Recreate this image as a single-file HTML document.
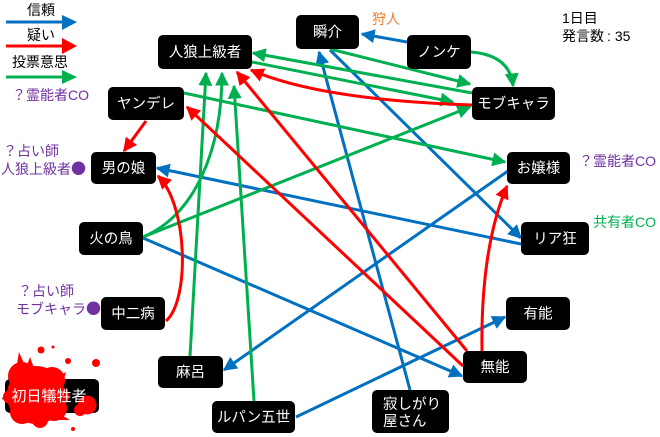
<!DOCTYPE html>
<html><head><meta charset="utf-8">
<style>
html,body{margin:0;padding:0;background:#fff;}
svg{display:block;}
text{font-family:"Liberation Sans","Noto Sans CJK JP",sans-serif;}
</style></head>
<body>
<svg width="660" height="437" viewBox="0 0 660 437" xmlns="http://www.w3.org/2000/svg">
<defs>
<marker id="ab" viewBox="0 0 10 10" refX="9" refY="5" markerWidth="14" markerHeight="14" markerUnits="userSpaceOnUse" orient="auto"><path d="M0,0 L10,5 L0,10 z" fill="#0070C0"/></marker>
<marker id="ar" viewBox="0 0 10 10" refX="9" refY="5" markerWidth="14" markerHeight="14" markerUnits="userSpaceOnUse" orient="auto"><path d="M0,0 L10,5 L0,10 z" fill="#FF0000"/></marker>
<marker id="ag" viewBox="0 0 10 10" refX="9" refY="5" markerWidth="14" markerHeight="14" markerUnits="userSpaceOnUse" orient="auto"><path d="M0,0 L10,5 L0,10 z" fill="#00B050"/></marker>
</defs>

<!-- legend -->
<text x="27" y="15" font-size="14" fill="#000">信頼</text>
<line x1="6" y1="22" x2="64" y2="22" stroke="#0070C0" stroke-width="3"/>
<polygon points="62,15 77,22 62,30" fill="#0070C0"/>
<text x="27" y="40" font-size="14" fill="#000">疑い</text>
<line x1="6" y1="46" x2="64" y2="46" stroke="#FF0000" stroke-width="3"/>
<polygon points="62,38 77,46 62,54" fill="#FF0000"/>
<text x="12" y="67" font-size="14" fill="#000">投票意思</text>
<line x1="6" y1="77" x2="64" y2="77" stroke="#00B050" stroke-width="3"/>
<polygon points="62,70 77,77 62,84" fill="#00B050"/>

<text x="12" y="100" font-size="14" fill="#7030A0">？霊能者CO</text>
<text x="3" y="156" font-size="14" fill="#7030A0">？占い師</text>
<text x="1" y="174" font-size="14" fill="#7030A0">人狼上級者<tspan font-family="Noto Sans CJK JP, sans-serif" font-size="15">●</tspan></text>
<text x="18" y="296" font-size="14" fill="#7030A0">？占い師</text>
<text x="16" y="314" font-size="14" fill="#7030A0">モブキャラ<tspan font-family="Noto Sans CJK JP, sans-serif" font-size="15">●</tspan></text>

<text x="562" y="23" font-size="14" fill="#000">1日目</text>
<text x="562" y="41" font-size="14" fill="#000">発言数<tspan dx="3">:</tspan><tspan dx="4">35</tspan></text>
<text x="372" y="24" font-size="14" fill="#ED7D31">狩人</text>
<text x="579" y="166" font-size="14" fill="#7030A0">？霊能者CO</text>
<text x="593" y="227" font-size="14" fill="#00B050">共有者CO</text>

<!-- edges -->
<g fill="none" stroke-width="3">
<g stroke="#0070C0">
<path d="M407,42 L362,34" marker-end="url(#ab)"/>
<path d="M410,390 L319,52" marker-end="url(#ab)"/>
<path d="M330,50 L521,238" marker-end="url(#ab)"/>
<path d="M521,244 L157,168" marker-end="url(#ab)"/>
<path d="M508,171 L224,370" marker-end="url(#ab)"/>
<path d="M143,238 L462,376" marker-end="url(#ab)"/>
<path d="M296,417 L505,317" marker-end="url(#ab)"/>
</g>
<g stroke="#00B050">
<path d="M190,356 L206,73" marker-end="url(#ag)"/>
<path d="M143,237 C195,215 222,150 222,73" marker-end="url(#ag)"/>
<path d="M254,401 L234,86" marker-end="url(#ag)"/>
<path d="M143,237 L470,107" marker-end="url(#ag)"/>
<path d="M184,93 L505,162" marker-end="url(#ag)"/>
<path d="M472,93 L253,53" marker-end="url(#ag)"/>
<path d="M252,62 L453,102" marker-end="url(#ag)"/>
<path d="M330,49 L470,84" marker-end="url(#ag)"/>
<path d="M471,52 Q510,55 513,86" marker-end="url(#ag)"/>
</g>
<g stroke="#FF0000">
<path d="M146,121 L124,151" marker-end="url(#ar)"/>
<path d="M166,321 C190,300 188,205 158,176" marker-end="url(#ar)"/>
<path d="M463,366 L187,107" marker-end="url(#ar)"/>
<path d="M467,351 L237,72" marker-end="url(#ar)"/>
<path d="M482,351 C481,290 488,230 507,186" marker-end="url(#ar)"/>
<path d="M472,105 Q320,100 251,70" marker-end="url(#ar)"/>
</g>
</g>

<!-- nodes -->
<g fill="#000">
<rect x="158" y="35" width="94" height="34" rx="5"/>
<rect x="296" y="15" width="63" height="34" rx="5"/>
<rect x="407" y="35" width="64" height="34" rx="5"/>
<rect x="472" y="87" width="83" height="33" rx="5"/>
<rect x="108" y="87" width="76" height="33" rx="5"/>
<rect x="91" y="152" width="65" height="32" rx="5"/>
<rect x="507" y="152" width="63" height="32" rx="5"/>
<rect x="79" y="222" width="64" height="33" rx="5"/>
<rect x="521" y="222" width="68" height="33" rx="5"/>
<rect x="101" y="297" width="64" height="33" rx="5"/>
<rect x="506" y="297" width="64" height="33" rx="5"/>
<rect x="158" y="356" width="65" height="32" rx="5"/>
<rect x="463" y="351" width="64" height="32" rx="5"/>
<rect x="5" y="379" width="94" height="34" rx="5"/>
<rect x="212" y="401" width="83" height="32" rx="5"/>
<rect x="372" y="390" width="77" height="43" rx="5"/>
</g>

<!-- blood -->
<g fill="#FF0000">
<circle cx="36" cy="395" r="29"/>
<circle cx="22" cy="376" r="14"/>
<circle cx="52" cy="380" r="13"/>
<circle cx="54" cy="408" r="13"/>
<circle cx="22" cy="412" r="12"/>
<circle cx="60" cy="396" r="9"/>
<circle cx="40" cy="420" r="8"/>
<circle cx="10" cy="397" r="7"/>
<polygon points="16,370 19,352 26,368"/>
<polygon points="26,368 30,357 34,368"/>
<polygon points="55,378 66,372 62,386"/>
<polygon points="5,392 2,399 8,402"/>
<polygon points="60,414 70,420 58,420"/>
<circle cx="87" cy="405" r="9.5"/>
<circle cx="80" cy="410" r="6"/>
<circle cx="41" cy="350" r="3.5"/>
<circle cx="53" cy="347" r="1.5"/>
<circle cx="68" cy="361" r="3"/>
<circle cx="96" cy="363" r="4"/>
<circle cx="73" cy="429" r="2"/>
</g>

<!-- node labels -->
<g fill="#fff" font-size="14.5" text-anchor="middle">
<text x="205" y="57">人狼上級者</text>
<text x="327.5" y="37">瞬介</text>
<text x="439" y="57">ノンケ</text>
<text x="513.5" y="108.5">モブキャラ</text>
<text x="146" y="108.5">ヤンデレ</text>
<text x="123.5" y="173">男の娘</text>
<text x="538.5" y="173">お嬢様</text>
<text x="111" y="243.5">火の鳥</text>
<text x="555" y="243.5">リア狂</text>
<text x="133" y="318.5">中二病</text>
<text x="538" y="318.5">有能</text>
<text x="190.5" y="377">麻呂</text>
<text x="495" y="372">無能</text>
<text x="49" y="401" font-size="15">初日犠牲者</text>
<text x="253.5" y="422">ルパン五世</text>
</g>
<g fill="#fff" font-size="14.5">
<text x="383" y="409">寂しがり</text>
<text x="383" y="426">屋さん</text>
</g>
</svg>
</body></html>
